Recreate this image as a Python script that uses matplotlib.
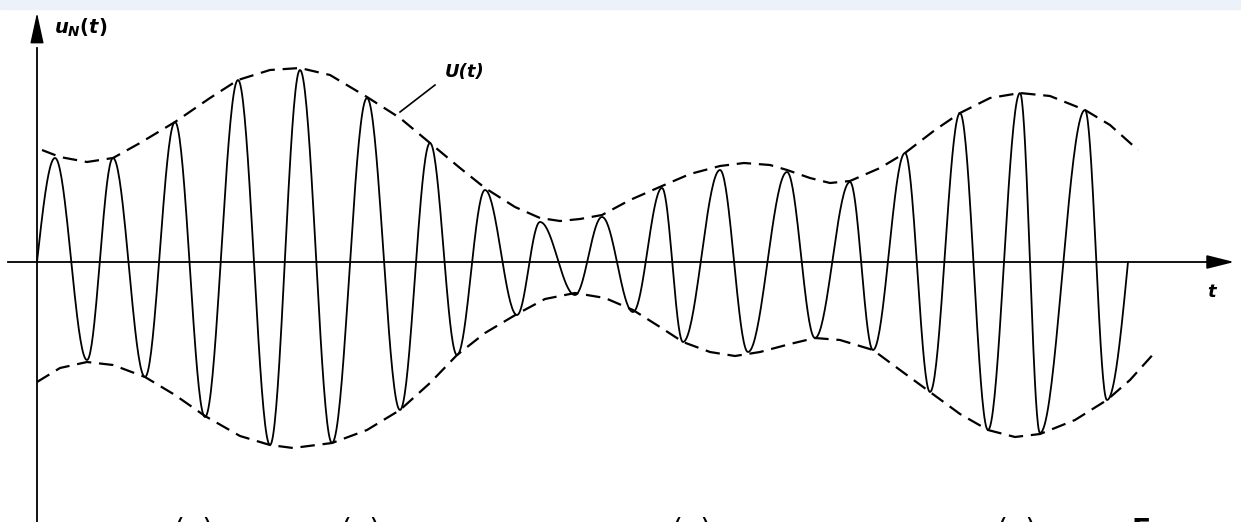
''' Narrowband noise u_N(t) with its envelope U(t), redrawn from a textbook figure.
Values were read off the scanned picture (t and u in arbitrary units).
'''

import numpy as np
import matplotlib
matplotlib.use('Agg')
import matplotlib.pyplot as plt
from matplotlib.patches import Rectangle


# zero crossings / extrema of the carrier: start, peak, trough, ... , end
t_ext = [0.00, 0.18, 0.50, 0.76, 1.08, 1.38, 1.68, 2.01, 2.33, 2.63, 2.95,
         3.30, 3.63, 3.93, 4.20, 4.48, 4.80, 5.03, 5.38, 5.65, 5.96, 6.25,
         6.46, 6.83, 7.11, 7.50, 7.78, 8.13, 8.36, 8.68, 8.93, 9.23, 9.51,
         9.83, 10.03, 10.48, 10.70, 10.91]
u_ext = [0.00, 1.04, -0.98, 1.04, -1.15, 1.40, -1.55, 1.82, -1.83, 1.92, -1.81,
         1.64, -1.48, 1.19, -0.93, 0.72, -0.53, 0.40, -0.33, 0.45, -0.50, 0.74,
         -0.80, 0.92, -0.90, 0.90, -0.76, 0.80, -0.88, 1.09, -1.30, 1.49, -1.68,
         1.69, -1.71, 1.52, -1.38, 0.00]

# upper dashed envelope U(t)
t_upper = [0.05, 0.23, 0.50, 0.76, 1.03, 1.38, 1.73, 2.01, 2.33, 2.63, 2.93,
           3.30, 3.63, 3.93, 4.23, 4.48, 4.78, 5.03, 5.23, 5.43, 5.65, 5.93,
           6.25, 6.53, 6.83, 7.07, 7.33, 7.50, 7.73, 7.93, 8.13, 8.43, 8.68,
           8.98, 9.23, 9.53, 9.83, 10.13, 10.48, 10.73, 11.01]
u_upper = [1.12, 1.05, 1.00, 1.04, 1.19, 1.40, 1.64, 1.82, 1.92, 1.94, 1.87,
           1.65, 1.44, 1.19, 0.94, 0.74, 0.55, 0.44, 0.41, 0.43, 0.47, 0.62,
           0.76, 0.88, 0.96, 0.99, 0.97, 0.92, 0.84, 0.79, 0.81, 0.94, 1.09,
           1.32, 1.49, 1.64, 1.69, 1.66, 1.52, 1.37, 1.12]

# lower dashed envelope -U(t)
t_lower = [0.00, 0.23, 0.50, 0.76, 1.08, 1.38, 1.68, 2.03, 2.33, 2.56, 2.95,
           3.30, 3.63, 3.93, 4.20, 4.48, 4.80, 5.08, 5.38, 5.68, 5.96, 6.23,
           6.46, 6.73, 6.98, 7.23, 7.53, 7.78, 8.03, 8.36, 8.63, 8.93, 9.23,
           9.51, 9.78, 10.03, 10.38, 10.70, 10.93, 11.20]
u_lower = [-1.20, -1.06, -1.00, -1.03, -1.15, -1.33, -1.54, -1.74, -1.83, -1.86, -1.81,
           -1.68, -1.48, -1.21, -0.93, -0.71, -0.52, -0.37, -0.31, -0.36, -0.48, -0.65,
           -0.80, -0.90, -0.94, -0.90, -0.82, -0.76, -0.78, -0.88, -1.08, -1.30, -1.52,
           -1.68, -1.75, -1.72, -1.58, -1.38, -1.18, -0.88]

# tops of the caption line that is cut off at the bottom of the scan
caption_t = [1.57, 3.24, 6.55, 9.80]


def carrier(t_pts, u_pts, n=40):
    '''Join consecutive extrema with half cosine arcs (quarter arcs at both ends).'''
    tt, uu = [], []
    last = len(t_pts) - 2
    for i in range(len(t_pts) - 1):
        s = np.linspace(0, 1, n)
        a, b = u_pts[i], u_pts[i + 1]
        if i == 0:
            w = np.sin(np.pi / 2 * s)
        elif i == last:
            w = 1 - np.cos(np.pi / 2 * s)
        else:
            w = (1 - np.cos(np.pi * s)) / 2
        tt.append(t_pts[i] + (t_pts[i + 1] - t_pts[i]) * s)
        uu.append(a + (b - a) * w)
    return np.concatenate(tt), np.concatenate(uu)


def graph():
    fig = plt.figure(figsize=(12.41, 5.22), dpi=100)
    ax = fig.add_axes([0, 0, 1, 1])
    ax.set_xlim(-0.37, 12.04)
    ax.set_ylim(-2.60, 2.62)
    ax.axis('off')

    # faint tinted strip at the top of the scan
    fig.patches.append(Rectangle((0, 1 - 9 / 522), 1, 9 / 522, transform=fig.transFigure,
                                 color='#edf2fa', zorder=0))

    # axes with arrow heads
    ax.plot([-0.29, 11.8], [0, 0], color='k', lw=1.3)
    ax.annotate('', xy=(12.0, 0), xytext=(11.75, 0),
                arrowprops=dict(arrowstyle='-|>,head_length=1.4,head_width=0.35',
                                color='k', lw=1.3, mutation_scale=12))
    ax.plot([0, 0], [-2.60, 2.14], color='k', lw=1.3)
    ax.annotate('', xy=(0, 2.52), xytext=(0, 2.29),
                arrowprops=dict(arrowstyle='-|>,head_length=1.6,head_width=0.35',
                                color='k', lw=1.0, mutation_scale=12))

    # carrier
    tc, uc = carrier(t_ext, u_ext)
    ax.plot(tc, uc, color='k', lw=1.3)

    # envelopes
    ax.plot(t_upper, u_upper, color='k', lw=1.6, dashes=(6.5, 3.5))
    ax.plot(t_lower, u_lower, color='k', lw=1.6, dashes=(6.5, 3.5))

    # labels
    ax.text(0.17, 2.28, r'$u_N(t)$', fontsize=14, ha='left', va='baseline')
    ax.plot([3.63, 3.98], [1.50, 1.77], color='k', lw=1.2)
    ax.text(4.08, 1.90, 'U(t)', fontsize=13, fontstyle='italic', fontweight='bold',
            ha='left', va='center')
    ax.text(11.75, -0.30, 't', fontsize=13, fontstyle='italic', fontweight='bold',
            ha='center', va='center')

    for c in caption_t:
        ax.text(c, -2.55, '(  )', fontsize=20, ha='center', va='top')
    ax.text(11.03, -2.55, 'Γ', fontsize=20, fontweight='bold', ha='center', va='top')

    plt.savefig('out.png', dpi=100)


if __name__ == '__main__':
    plt.rcParams['mathtext.fontset'] = 'custom'
    plt.rcParams['mathtext.it'] = 'DejaVu Sans:italic:bold'
    plt.rcParams['mathtext.rm'] = 'DejaVu Sans:bold'
    plt.rcParams['mathtext.default'] = 'it'
    graph()
